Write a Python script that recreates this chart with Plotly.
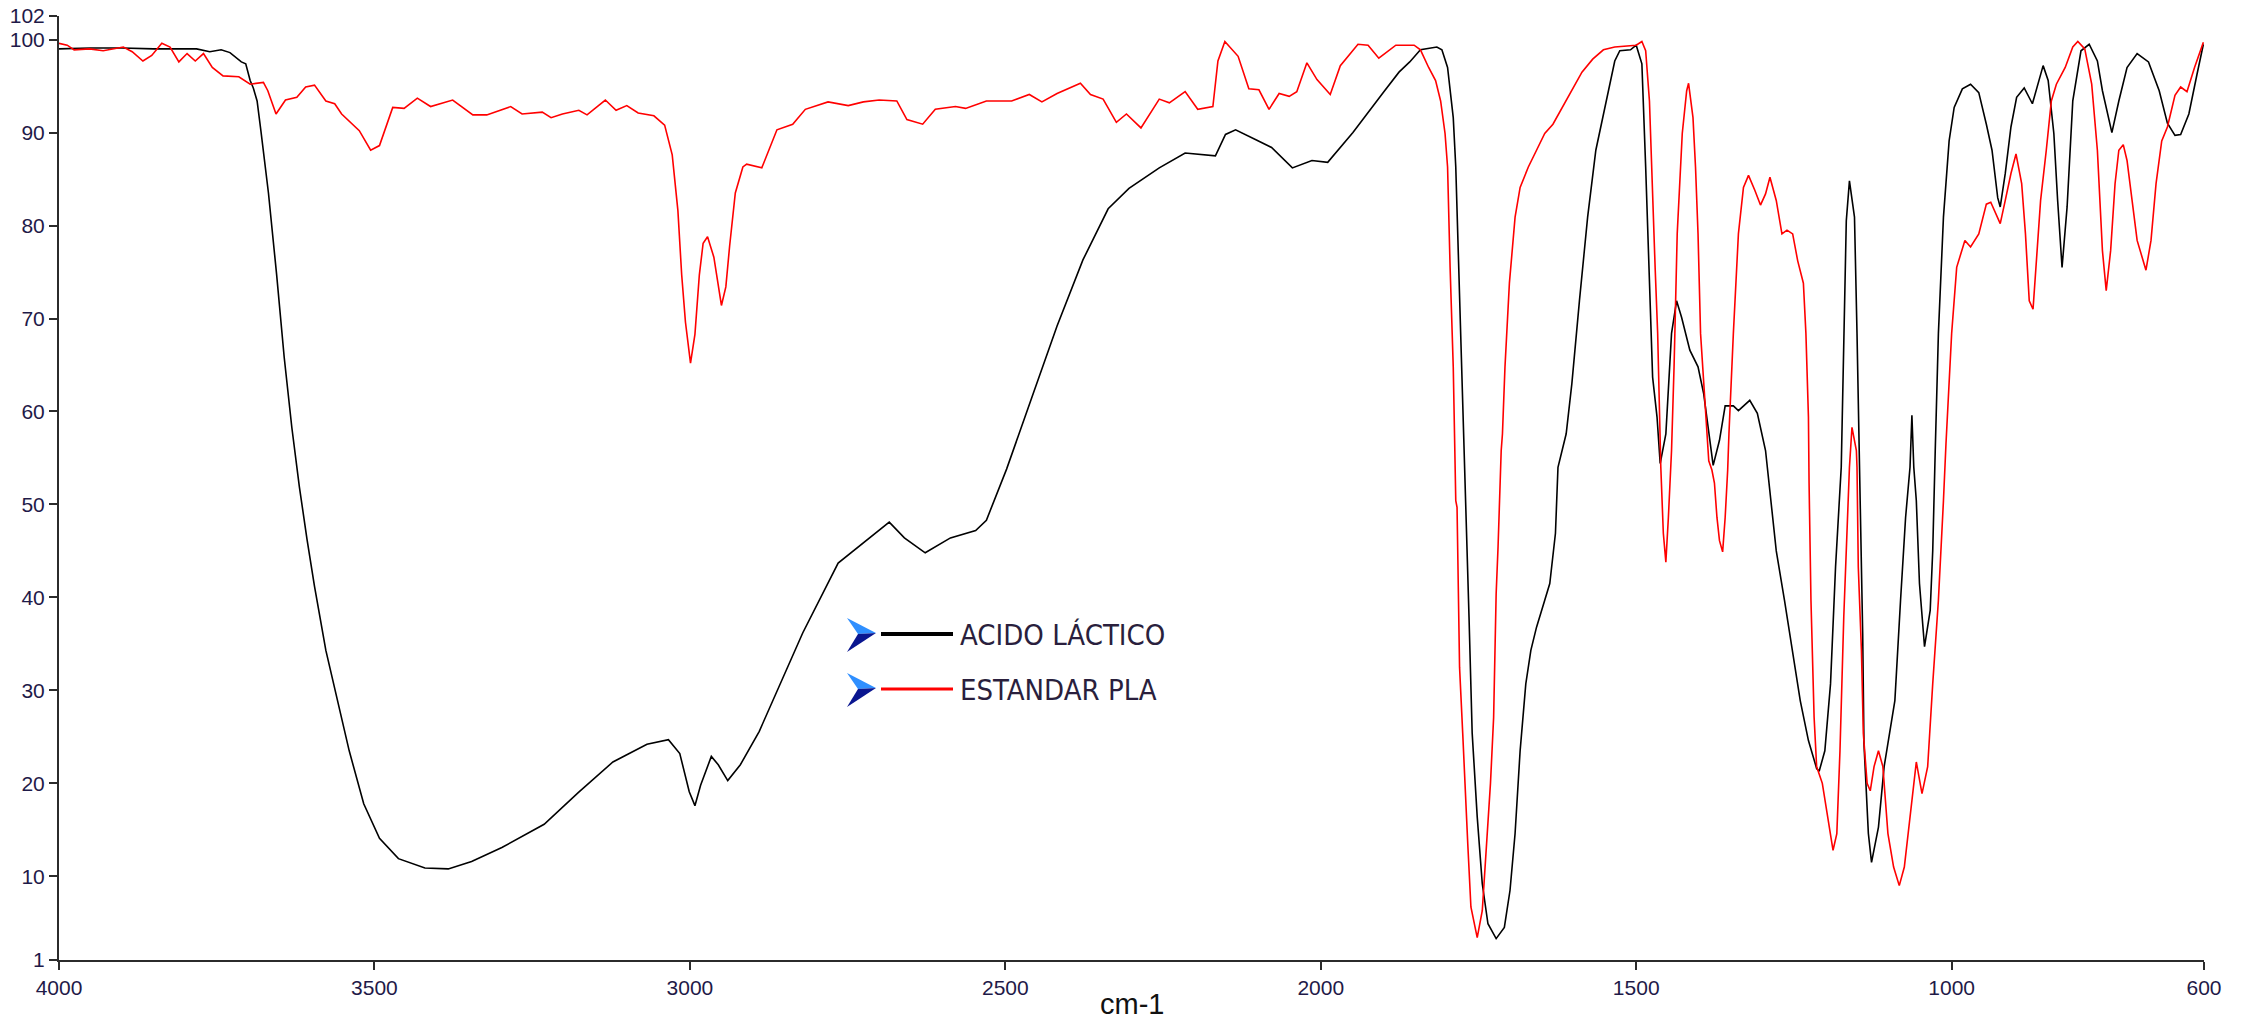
import plotly.graph_objects as go

# FTIR spectra: wavenumber (cm-1) and transmittance (%)
acido_wn = [4000, 3950, 3900, 3850, 3800, 3782, 3761, 3743, 3729, 3711, 3704, 3697, 3692, 3686,
            3680, 3675, 3668, 3655, 3643, 3631, 3619, 3607, 3595, 3577, 3558, 3540, 3517, 3492,
            3462, 3420, 3383, 3346, 3298, 3231, 3177, 3122, 3068, 3034, 3016, 3001, 2992, 2983,
            2966, 2955, 2940, 2920, 2890, 2821, 2765, 2725, 2684, 2660, 2627, 2587, 2547, 2530,
            2498, 2458, 2418, 2377, 2337, 2304, 2280, 2256, 2215, 2167, 2151, 2135, 2102, 2078,
            2045, 2014, 1989, 1949, 1900, 1876, 1859, 1842, 1816, 1808, 1799, 1790, 1786, 1782,
            1778, 1773, 1769, 1765, 1760, 1752, 1744, 1735, 1722, 1709, 1700, 1692, 1684, 1675,
            1667, 1658, 1645, 1637, 1628, 1624, 1611, 1602, 1590, 1577, 1564, 1551, 1534, 1526,
            1509, 1500, 1491, 1485, 1479, 1474, 1467, 1462, 1453, 1444, 1436, 1428, 1415, 1402,
            1393, 1385, 1378, 1368, 1359, 1346, 1338, 1320, 1308, 1295, 1286, 1278, 1265, 1252,
            1240, 1227, 1214, 1210, 1201, 1192, 1184, 1175, 1171, 1167, 1162, 1154, 1150, 1146,
            1143, 1141, 1139, 1132, 1127, 1116, 1107, 1098, 1090, 1081, 1073, 1066, 1063, 1060,
            1056, 1051, 1043, 1034, 1030, 1026, 1021, 1013, 1004, 996, 983, 970, 957, 945, 936,
            927, 923, 915, 906, 897, 885, 872, 864, 855, 847, 838, 832, 825, 817, 808, 795, 782,
            769, 761, 746, 735, 722, 706, 688, 671, 658, 646, 637, 624, 611, 601]
acido_t = [99.0, 99.1, 99.1, 99.0, 99.0, 99.0, 98.7, 98.9, 98.6, 97.6, 97.4, 95.6, 94.8, 93.4,
           90.2, 87.3, 83.5, 74.7, 65.8, 58.3, 51.9, 46.3, 41.2, 34.3, 28.6, 23.5, 17.8, 14.1,
           11.9, 10.9, 10.8, 11.6, 13.1, 15.6, 19.0, 22.3, 24.2, 24.7, 23.2, 19.1, 17.6, 19.8,
           22.9, 22.0, 20.3, 22.0, 25.6, 36.2, 43.7, 45.9, 48.1, 46.4, 44.8, 46.4, 47.2, 48.3,
           53.8, 61.5, 69.2, 76.3, 81.8, 84.0, 85.1, 86.2, 87.8, 87.5, 89.8, 90.3, 89.2, 88.4,
           86.2, 87.0, 86.8, 90.0, 94.4, 96.5, 97.6, 98.9, 99.2, 98.9, 97.0, 91.6, 86.3, 77.3,
           68.4, 57.6, 46.9, 37.9, 25.4, 16.4, 9.2, 4.9, 3.3, 4.5, 8.5, 14.6, 23.5, 30.7,
           34.3, 36.8, 39.7, 41.5, 46.9, 54.0, 57.6, 63.0, 71.9, 80.9, 88.1, 92.4, 97.7, 98.8,
           98.9, 99.4, 97.4, 86.3, 73.7, 63.7, 59.4, 54.4, 57.6, 68.4, 71.9, 70.1, 66.6, 64.8,
           61.9, 57.6, 54.2, 56.9, 60.6, 60.6, 60.1, 61.2, 59.8, 55.8, 50.4, 45.0, 39.7, 34.3,
           28.9, 24.6, 21.6, 21.3, 23.5, 30.7, 43.3, 54.0, 68.4, 80.5, 84.8, 80.9, 68.4, 54.0,
           45.0, 36.1, 24.3, 14.6, 11.5, 15.3, 21.8, 25.7, 28.9, 39.7, 48.6, 54.0, 59.6, 54.0,
           50.4, 41.5, 34.7, 38.6, 45.0, 55.8, 68.4, 80.9, 89.1, 92.7, 94.7, 95.2, 94.3, 90.9, 88.1,
           83.0, 82.0, 85.6, 90.6, 93.8, 94.8, 93.1, 94.9, 97.2, 95.6, 89.9, 82.7, 75.5, 82.0, 93.4, 98.8, 99.5,
           97.7, 94.5, 90.0, 93.4, 97.0, 98.5, 97.6, 94.5, 91.0, 89.7, 89.8, 92.0, 96.3, 99.5]

pla_wn = [4000, 3987, 3976, 3952, 3930, 3898, 3884, 3867, 3853, 3837, 3824, 3810, 3797, 3784,
          3771, 3757, 3740, 3715, 3697, 3676, 3669, 3656, 3641, 3623, 3609, 3595, 3577, 3563,
          3552, 3524, 3506, 3492, 3471, 3453, 3432, 3411, 3376, 3344, 3322, 3284, 3266, 3234,
          3220, 3202, 3176, 3163, 3134, 3117, 3100, 3082, 3057, 3040, 3028, 3019, 3013, 3007,
          2999, 2992, 2985, 2979, 2972, 2962, 2950, 2943, 2937, 2928, 2916, 2910, 2886, 2862,
          2837, 2817, 2781, 2749, 2725, 2700, 2672, 2656, 2631, 2611, 2579, 2563, 2530, 2490,
          2462, 2442, 2418, 2381, 2365, 2345, 2324, 2308, 2285, 2256, 2240, 2215, 2195, 2171,
          2163, 2152, 2131, 2114, 2098, 2082, 2066, 2050, 2038, 2022, 2006, 1985, 1969, 1941,
          1925, 1908, 1881, 1852, 1842, 1829, 1818, 1810, 1803, 1799, 1795, 1790, 1786, 1784,
          1782, 1780, 1775, 1771, 1767, 1762, 1752, 1744, 1738, 1731, 1726, 1724, 1722, 1719,
          1717, 1714, 1712, 1708, 1701, 1692, 1684, 1671, 1658, 1645, 1632, 1620, 1603, 1586,
          1569, 1552, 1534, 1508, 1500, 1491, 1485, 1479, 1474, 1470, 1466, 1462, 1461, 1457,
          1453, 1449, 1444, 1440, 1435, 1427, 1420, 1417, 1410, 1406, 1402, 1398, 1393, 1389,
          1385, 1380, 1376, 1372, 1368, 1363, 1359, 1355, 1353, 1346, 1338, 1330, 1322, 1312,
          1303, 1295, 1288, 1278, 1269, 1261, 1252, 1244, 1235, 1231, 1227, 1226, 1223, 1218,
          1214, 1205, 1197, 1188, 1182, 1177, 1171, 1166, 1162, 1158, 1151, 1150, 1148, 1143,
          1140, 1134, 1129, 1123, 1116, 1109, 1101, 1092, 1083, 1075, 1066, 1062, 1056, 1047,
          1038, 1030, 1021, 1013, 1009, 1000, 992, 979, 970, 957, 945, 938, 923, 915, 906, 898,
          889, 883, 877, 871, 864, 859, 850, 842, 834, 820, 808, 800, 789, 778, 769, 765, 761,
          755, 748, 741, 735, 728, 722, 714, 706, 692, 684, 676, 667, 658, 646, 637, 627, 615, 601]
pla_t = [99.6, 99.4, 98.9, 99.0, 98.8, 99.2, 98.7, 97.7, 98.3, 99.6, 99.2, 97.6, 98.5, 97.7,
         98.5, 97.0, 96.1, 96.0, 95.2, 95.4, 94.5, 92.0, 93.5, 93.8, 94.9, 95.1, 93.4, 93.1,
         92.0, 90.2, 88.1, 88.6, 92.7, 92.6, 93.7, 92.8, 93.5, 91.9, 91.9, 92.8, 92.0, 92.2,
         91.6, 92.0, 92.4, 91.9, 93.5, 92.4, 92.9, 92.1, 91.8, 90.8, 87.6, 81.6, 74.7, 69.6,
         65.2, 68.3, 74.7, 78.1, 78.8, 76.6, 71.4, 73.4, 77.8, 83.5, 86.3, 86.6, 86.2, 90.3,
         90.9, 92.5, 93.3, 92.9, 93.3, 93.5, 93.4, 91.4, 90.9, 92.5, 92.8, 92.6, 93.4, 93.4,
         94.1, 93.3, 94.2, 95.3, 94.1, 93.6, 91.1, 92.0, 90.5, 93.6, 93.2, 94.4, 92.5, 92.8,
         97.7, 99.8, 98.2, 94.7, 94.6, 92.5, 94.2, 93.9, 94.4, 97.5, 95.7, 94.1, 97.2, 99.5,
         99.4, 98.0, 99.4, 99.4, 98.9, 97.0, 95.6, 93.4, 89.9, 86.3, 75.5, 64.8, 50.4, 49.7,
         41.1, 32.5, 25.4, 18.9, 13.5, 6.7, 3.4, 6.3, 12.8, 20.0, 27.1, 34.3, 40.4, 45.4,
         50.4, 55.8, 57.6, 64.8, 73.8, 80.9, 84.1, 86.3, 88.1, 89.9, 90.9, 92.4, 94.5, 96.5,
         97.9, 98.9, 99.2, 99.3, 99.4, 99.8, 98.8, 93.4, 82.7, 75.5, 68.4, 57.6, 54.0, 46.9,
         43.8, 48.6, 55.8, 64.8, 79.1, 89.9, 94.5, 95.3, 91.6, 86.3, 79.1, 68.4, 63.0, 59.4,
         54.7, 53.7, 52.3, 48.6, 46.1, 44.9, 48.6, 53.7, 57.6, 68.4, 79.1, 84.1, 85.4, 83.8,
         82.2, 83.4, 85.2, 82.7, 79.1, 79.5, 79.1, 76.2, 73.8, 68.4, 59.4, 52.3, 39.7, 27.1,
         21.8, 20.0, 16.4, 12.8, 14.6, 23.5, 37.9, 46.9, 54.0, 58.3, 55.8, 54.0, 43.3, 34.3,
         25.4, 20.0, 19.2, 21.8, 23.5, 21.8, 14.6, 11.0, 9.0, 11.0, 16.4, 18.2, 22.3, 18.9,
         21.8, 30.7, 39.7, 50.4, 56.5, 68.4, 75.5, 78.4, 77.7, 79.1, 82.3, 82.5, 80.2, 82.7, 85.6, 87.7,
         84.5, 79.1, 71.9, 71.0, 77.3, 82.7, 88.1, 93.4, 95.2, 97.0, 99.2, 99.8, 99.0, 95.2, 88.1, 82.7, 77.3,
         73.0, 77.3, 84.5, 88.1, 88.7, 87.0, 82.7, 78.4, 75.2, 78.4, 84.5, 89.1, 90.6, 94.0, 94.9, 94.4, 97.0, 99.7]

x_ticks = [4000, 3500, 3000, 2500, 2000, 1500, 1000, 600]
y_ticks = [1, 10, 20, 30, 40, 50, 60, 70, 80, 90, 100]
y_top_label = "102"
x_title = "cm-1"
series_names = ["ACIDO LÁCTICO", "ESTANDAR PLA"]
series_colors = ["#000000", "#ff0000"]

W, H = 2246, 1021
ML, MR, MT, MB = 59, 42, 16, 61
Y_BOTTOM = 1.0
PX_PER_UNIT = 9.297          # vertical pixels per % transmittance
PLOT_H = H - MT - MB
Y_TOP = Y_BOTTOM + PLOT_H / PX_PER_UNIT   # axis ends a little above 102 %
TICK_COLOR = "#1f1a48"


def px(X):
    """Page pixel column -> paper x."""
    return (X - ML) / (W - ML - MR)


def py(Y):
    """Page pixel row -> paper y."""
    return (H - MB - Y) / PLOT_H


fig = go.Figure()
for wn, t, color in [(acido_wn, acido_t, series_colors[0]), (pla_wn, pla_t, series_colors[1])]:
    fig.add_trace(go.Scatter(x=wn, y=t, mode="lines", line=dict(color=color, width=1.6),
                             showlegend=False, hoverinfo="skip"))

tick_font = dict(family="Liberation Sans, Arial, sans-serif", size=21, color=TICK_COLOR)
axis_common = dict(showline=True, linecolor="#2b2b2b", linewidth=2, ticks="outside",
                   ticklen=8, tickwidth=2, tickcolor="#2b2b2b", showgrid=False, zeroline=False,
                   tickfont=tick_font)
fig.update_xaxes(range=[4000, 600], tickmode="array", tickvals=x_ticks,
                 ticktext=[str(v) for v in x_ticks], **axis_common)
fig.update_yaxes(range=[Y_BOTTOM, Y_TOP], tickmode="array", tickvals=y_ticks + [Y_TOP],
                 ticktext=[str(v) for v in y_ticks] + [y_top_label], **axis_common)

shapes = []
annotations = [dict(text=x_title, xref="paper", yref="paper", x=0.5, y=py(1004),
                    xanchor="center", yanchor="middle", showarrow=False,
                    font=dict(family="Liberation Sans, Arial, sans-serif", size=29, color="#111111"))]

# Hand-built legend: arrow marker, line sample and label for each series
for i, (name, color) in enumerate(zip(series_names, series_colors)):
    yc = 634 + 55 * i
    upper = f"M {px(847)},{py(yc - 16)} L {px(876)},{py(yc - 1)} L {px(858)},{py(yc)} Z"
    lower = f"M {px(858)},{py(yc)} L {px(876)},{py(yc - 1)} L {px(847)},{py(yc + 18)} Z"
    shapes.append(dict(type="path", path=upper, xref="paper", yref="paper",
                       fillcolor="#2f8fff", line=dict(width=0)))
    shapes.append(dict(type="path", path=lower, xref="paper", yref="paper",
                       fillcolor="#0a1690", line=dict(width=0)))
    shapes.append(dict(type="line", xref="paper", yref="paper", x0=px(881), x1=px(953),
                       y0=py(yc), y1=py(yc), line=dict(color=color, width=4 if i == 0 else 3)))
    annotations.append(dict(text=name, xref="paper", yref="paper", x=px(958), y=py(yc + 1),
                            xanchor="left", yanchor="middle", showarrow=False,
                            font=dict(family="Liberation Sans Narrow, Arial Narrow, DejaVu Sans Condensed, sans-serif",
                                      size=29, color="#2a1f3d")))

fig.update_layout(width=W, height=H, margin=dict(l=ML, r=MR, t=MT, b=MB, autoexpand=False),
                  paper_bgcolor="white", plot_bgcolor="white", shapes=shapes,
                  annotations=annotations, showlegend=False)

fig.write_html("out.html")
